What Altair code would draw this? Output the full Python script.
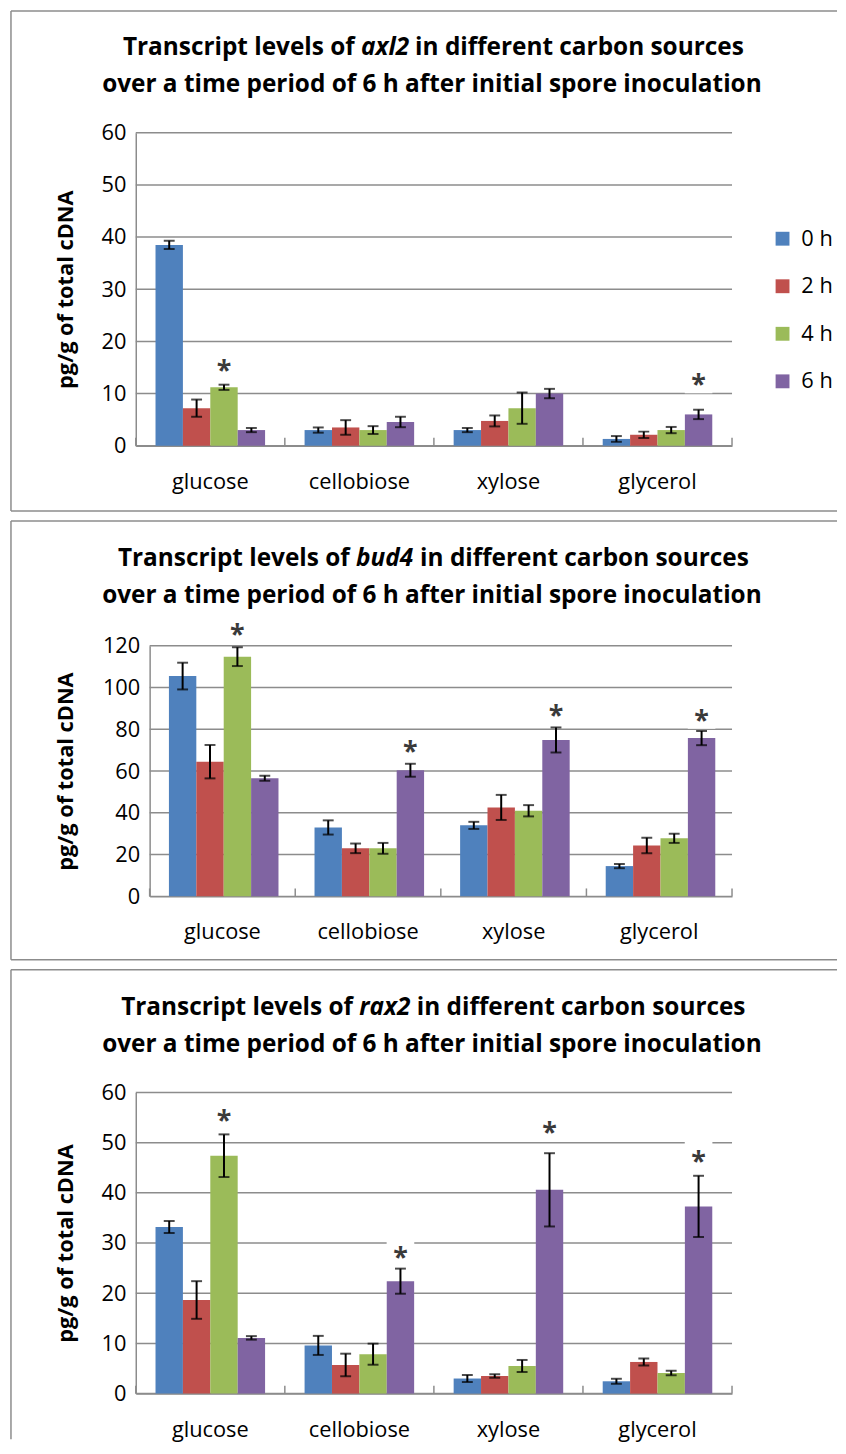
import altair as alt
import pandas as pd

# ---------------- data ----------------
categories = ["glucose", "cellobiose", "xylose", "glycerol"]
times = ["0 h", "2 h", "4 h", "6 h"]

# rows: categories, columns: times
axl2_mean = [[38.5, 7.2, 11.2, 3.0],
             [3.0, 3.5, 3.0, 4.55],
             [3.0, 4.75, 7.2, 10.0],
             [1.3, 2.1, 3.0, 6.0]]
axl2_err = [[0.8, 1.65, 0.5, 0.4],
            [0.5, 1.4, 0.75, 1.0],
            [0.4, 1.05, 3.0, 0.9],
            [0.55, 0.6, 0.6, 0.9]]
axl2_stars = [("glucose", "4 h", 15.6), ("glycerol", "6 h", 12.9)]

bud4_mean = [[105.5, 64.5, 114.8, 56.6],
             [33.0, 23.0, 23.0, 60.4],
             [34.0, 42.6, 41.0, 74.9],
             [14.5, 24.4, 27.8, 75.8]]
bud4_err = [[6.4, 8.0, 4.5, 1.2],
            [3.4, 2.3, 2.6, 3.1],
            [1.7, 6.0, 2.7, 6.0],
            [1.0, 3.7, 2.2, 3.4]]
bud4_stars = [("glucose", "4 h", 128.3), ("cellobiose", "6 h", 72.3),
              ("xylose", "6 h", 89.6), ("glycerol", "6 h", 87.4)]

rax2_mean = [[33.2, 18.65, 47.4, 11.1],
             [9.6, 5.7, 7.85, 22.4],
             [3.0, 3.5, 5.5, 40.6],
             [2.45, 6.3, 4.1, 37.3]]
rax2_err = [[1.2, 3.75, 4.25, 0.35],
            [1.9, 2.25, 2.1, 2.5],
            [0.7, 0.35, 1.2, 7.3],
            [0.5, 0.7, 0.45, 6.1]]
rax2_stars = [("glucose", "4 h", 55.7), ("cellobiose", "6 h", 28.3),
              ("xylose", "6 h", 53.2), ("glycerol", "6 h", 47.5)]

title_a = "Transcript levels of"
title_c = "in different carbon sources"
title_line2 = "over a time period of 6 h after initial spore inoculation"
y_title = "pg/g of total cDNA"

# ---------------- style ----------------
FONT = "Open Sans"
GRID = "#8c8c8c"
COLORS = ["#4F81BD", "#C0504D", "#9BBB59", "#8064A2"]
W = 602
CX = 299
TITLE_SIZE = 24.6

# approximate advance widths (em/1000) of Open Sans Bold
ADV = {" ": 260, "a": 590, "b": 617, "c": 495, "d": 617, "e": 575, "f": 381,
       "g": 543, "h": 637, "i": 293, "l": 293, "m": 950, "n": 637, "o": 602,
       "p": 617, "r": 438, "s": 494, "t": 402, "u": 637, "v": 564, "x": 566,
       "T": 563, "2": 572, "4": 572, "6": 572}


def tw(s, size, italic=False):
    w = sum(ADV.get(ch, 580) for ch in s) / 1000.0 * size
    return w * (0.97 if italic else 1.0)


dummy = pd.DataFrame({"d": [0]})


def panel(gene, means, errs, stars, ymax, ystep, H, x0, top_rel, bottom_rel,
          left_end_rel, legend_y, t1_y, t2_y):
    rows = []
    for ci, c in enumerate(categories):
        for ti, t in enumerate(times):
            m = means[ci][ti]
            e = errs[ci][ti]
            rows.append({"cat": c, "time": t, "mean": m, "lo": m - e, "hi": m + e})
    df = pd.DataFrame(rows)
    sdf = pd.DataFrame(stars, columns=["cat", "time", "v"])
    gdf = pd.DataFrame({"v": list(range(0, ymax + 1, ystep))})

    yscale = alt.Scale(domain=[0, ymax], nice=False, zero=True)
    yaxis = alt.Axis(title=y_title, values=list(range(0, ymax + 1, ystep)),
                     grid=False, ticks=False, domainColor=GRID, domainWidth=1.5,
                     labelFont=FONT, labelFontSize=22, labelColor="black",
                     labelPadding=10, titleFont=FONT, titleFontSize=22,
                     titleFontWeight="bold", titleColor="black",
                     titleX=-71 - x0, titleBaseline="middle", offset=-x0)

    def Y(f):
        return alt.Y(f"{f}:Q", scale=yscale, axis=yaxis)

    xaxis = alt.Axis(title=None, ticks=False, domainColor=GRID, domainWidth=1.5,
                     labelFont=FONT, labelFontSize=22, labelColor="black",
                     labelPadding=26, labelAngle=0)
    X = alt.X("cat:N", sort=categories, axis=xaxis,
              scale=alt.Scale(range=[x0, W], paddingInner=0.265, paddingOuter=0.1325))
    XO = alt.XOffset("time:N", sort=times, scale=alt.Scale(paddingInner=0, paddingOuter=0))

    color = alt.Color("time:N", sort=times,
                      scale=alt.Scale(domain=times, range=COLORS),
                      legend=alt.Legend(title=None, orient="none", legendX=642,
                                        legendY=legend_y, symbolType="square",
                                        symbolSize=196, symbolStrokeWidth=0,
                                        labelFont=FONT, labelFontSize=22,
                                        labelColor="black", labelOffset=8,
                                        rowPadding=26, padding=0))

    grid = alt.Chart(gdf).mark_rule(color=GRID, strokeWidth=1.5).encode(
        y=Y("v"), x=alt.value(x0), x2=alt.value(W))
    boxes = alt.Chart(sdf).mark_point(
        shape="M-0.93,-1H0.93V1H-0.93Z", size=900, filled=True, fill="white",
        opacity=1, strokeWidth=0).encode(x=X, xOffset=XO, y=Y("v"))
    bars = alt.Chart(df).mark_bar().encode(x=X, xOffset=XO, y=Y("mean"), color=color)
    err = alt.Chart(df).mark_rule(color="black", strokeWidth=2).encode(
        x=X, xOffset=XO, y=Y("lo"), y2="hi:Q")
    cap_lo = alt.Chart(df).mark_tick(color="black", thickness=2, size=11).encode(
        x=X, xOffset=XO, y=Y("lo"))
    cap_hi = alt.Chart(df).mark_tick(color="black", thickness=2, size=11).encode(
        x=X, xOffset=XO, y=Y("hi"))
    star = alt.Chart(sdf).mark_text(
        text="*", font=FONT, fontSize=27, fontWeight="bold", color="#3a3a3a",
        baseline="alphabetic", dy=15).encode(x=X, xOffset=XO, y=Y("v"))

    inner = alt.layer(grid, boxes, bars, err, cap_lo, cap_hi, star)

    bdf = pd.DataFrame({"b": [0, 1, 2, 3, 4]})
    bticks = alt.Chart(bdf).mark_rule(color=GRID, strokeWidth=1.5).encode(
        x=alt.X("b:Q", scale=alt.Scale(domain=[0, 4], range=[x0, W]), axis=None),
        y=alt.value(H), y2=alt.value(H - 8))

    layers = [inner, bticks]
    # panel border
    layers.append(alt.Chart(dummy).mark_rule(color=GRID, strokeWidth=1.5).encode(
        x=alt.value(-126), x2=alt.value(708), y=alt.value(top_rel)))
    layers.append(alt.Chart(dummy).mark_rule(color=GRID, strokeWidth=1.5).encode(
        x=alt.value(-126), y=alt.value(top_rel), y2=alt.value(left_end_rel)))
    if bottom_rel is not None:
        layers.append(alt.Chart(dummy).mark_rule(color=GRID, strokeWidth=1.5).encode(
            x=alt.value(-126), x2=alt.value(708), y=alt.value(bottom_rel)))

    # title (two lines, gene name in italics)
    sp = tw(" ", TITLE_SIZE)
    wa = tw(title_a, TITLE_SIZE)
    wb = tw(gene, TITLE_SIZE, italic=True)
    wc = tw(title_c, TITLE_SIZE)
    total = wa + sp + wb + sp + wc
    b_left = CX - total / 2 + wa + sp
    tprops = dict(font=FONT, fontSize=TITLE_SIZE, fontWeight="bold", color="black",
                  baseline="middle")
    layers.append(alt.Chart(dummy).mark_text(text=title_a, align="right", **tprops).encode(
        x=alt.value(b_left - sp), y=alt.value(t1_y)))
    layers.append(alt.Chart(dummy).mark_text(text=gene, align="left", fontStyle="italic",
                                             **tprops).encode(
        x=alt.value(b_left), y=alt.value(t1_y)))
    layers.append(alt.Chart(dummy).mark_text(text=title_c, align="left", **tprops).encode(
        x=alt.value(b_left + wb + sp), y=alt.value(t1_y)))
    layers.append(alt.Chart(dummy).mark_text(text=title_line2, align="center", **tprops).encode(
        x=alt.value(CX), y=alt.value(t2_y)))

    return alt.layer(*layers).resolve_scale(x="independent").properties(width=W, height=H)


p1 = panel("axl2", axl2_mean, axl2_err, axl2_stars, 60, 10, 316, 0,
           -123, 382, 382, 96, -85, -48)
p2 = panel("bud4", bud4_mean, bud4_err, bud4_stars, 120, 20, 253, 14,
           -126, 317, 317, 63, -88, -50)
p3 = panel("rax2", rax2_mean, rax2_err, rax2_stars, 60, 10, 304, 0,
           -124, None, 350, 90, -85, -48)

chart = alt.vconcat(p1, p2, p3, spacing=8,
                    padding={"left": 2, "top": -5, "right": 0, "bottom": 0}
                    ).configure_view(stroke=None)

chart.save("out.html", embed_options={"renderer": "svg", "actions": False})
